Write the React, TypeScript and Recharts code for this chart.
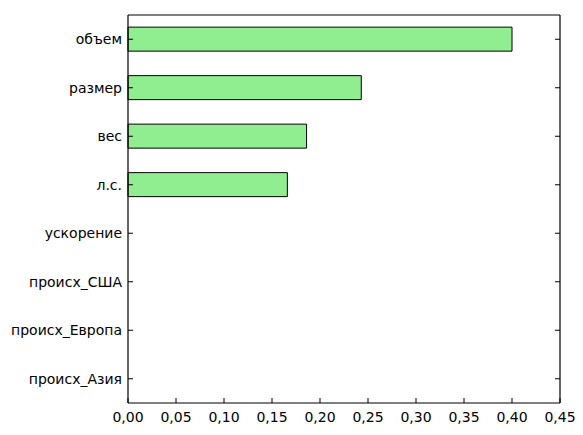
import { BarChart, Bar, XAxis, YAxis } from "recharts";

const features = [
  "объем",
  "размер",
  "вес",
  "л.с.",
  "ускорение",
  "происх_США",
  "происх_Европа",
  "происх_Азия",
];
const importance = [0.4, 0.243, 0.186, 0.166, 0, 0, 0, 0];
const xTicks = [0, 0.05, 0.1, 0.15, 0.2, 0.25, 0.3, 0.35, 0.4, 0.45];

const data = features.map((name, i) => ({ name, value: importance[i] }));

const font = { fontFamily: "DejaVu Sans", fontSize: 14, fill: "#000" };
const axisLine = { stroke: "#000", strokeWidth: 1.2 };
const tickLine = { stroke: "#000", strokeWidth: 1 };

const fmt = (v: number) => v.toFixed(2).replace(".", ",");
const noLabel = () => <g />;

export default function App() {
  return (
    <BarChart
      width={575}
      height={427}
      data={data}
      layout="vertical"
      margin={{ top: 6, right: 22, left: 0, bottom: 0 }}
      barCategoryGap="25%"
    >
      <XAxis
        xAxisId="bottom"
        type="number"
        domain={[0, 0.45]}
        ticks={xTicks}
        tickFormatter={fmt}
        height={32}
        tick={font}
        tickSize={-5}
        tickMargin={14}
        axisLine={axisLine}
        tickLine={tickLine}
        interval={0}
      />
      <XAxis
        xAxisId="top"
        orientation="top"
        type="number"
        domain={[0, 0.45]}
        ticks={xTicks}
        height={1}
        tick={noLabel}
        tickSize={-5}
        axisLine={axisLine}
        tickLine={tickLine}
        interval={0}
      />
      <YAxis
        yAxisId="left"
        type="category"
        dataKey="name"
        width={120}
        tick={font}
        tickSize={-5}
        tickMargin={11}
        axisLine={axisLine}
        tickLine={tickLine}
        interval={0}
      />
      <YAxis
        yAxisId="right"
        orientation="right"
        type="category"
        dataKey="name"
        width={1}
        tick={noLabel}
        tickSize={-5}
        axisLine={axisLine}
        tickLine={tickLine}
        interval={0}
      />
      <Bar
        dataKey="value"
        xAxisId="bottom"
        yAxisId="left"
        fill="#90ee90"
        stroke="#000"
        strokeWidth={1}
        isAnimationActive={false}
      />
    </BarChart>
  );
}
